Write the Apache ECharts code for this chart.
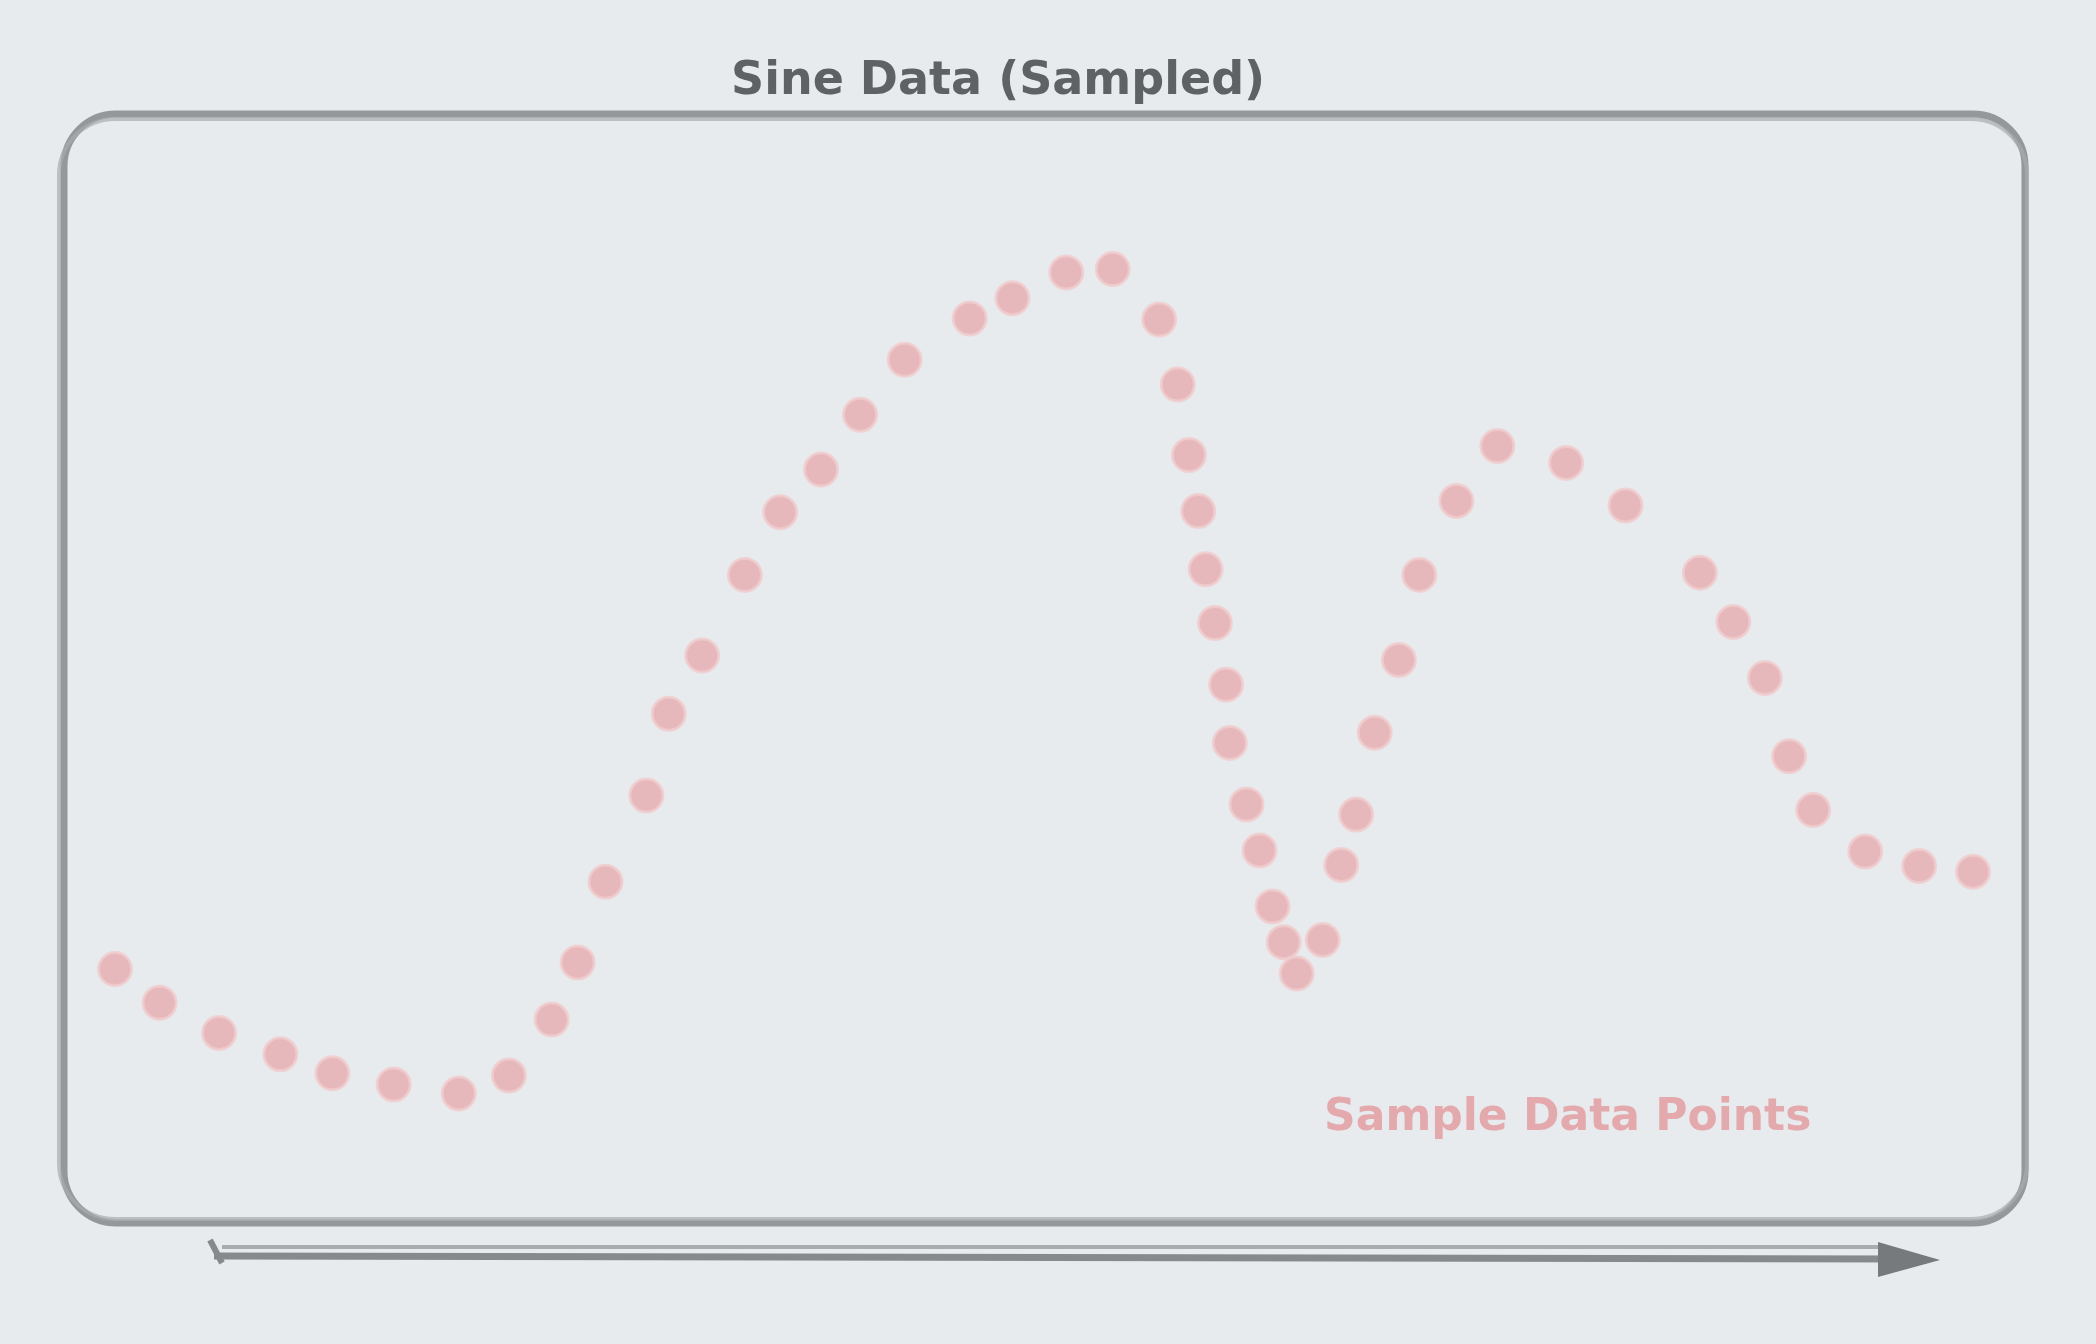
<!DOCTYPE html>
<html><head><meta charset="utf-8">
<script src="https://cdn.jsdelivr.net/npm/echarts@6/dist/echarts.min.js"></script>
<style>html,body{margin:0;padding:0;background:#e8ebee}#c{width:2096px;height:1344px}</style>
</head><body><div id="c"></div>
<script>
const title = 'Sine Data (Sampled)';
const seriesName = 'Sample Data Points';
const xValues = [0.00,0.24,0.56,0.89,1.17,1.50,1.85,2.12,2.35,2.49,2.64,2.86,2.98,3.16,3.39,3.58,3.80,4.01,4.25,4.60,4.83,5.12,5.37,5.62,5.72,5.78,5.83,5.87,5.92,5.98,6.00,6.09,6.16,6.23,6.29,6.36,6.50,6.60,6.68,6.78,6.91,7.02,7.22,7.44,7.81,8.13,8.53,8.71,8.88,9.01,9.14,9.42,9.71,10.00];
const yValues = [22.4,19.4,16.7,14.8,13.1,12.1,11.3,12.9,17.9,23.0,30.2,37.9,45.2,50.4,57.6,63.2,67.0,71.9,76.8,80.5,82.3,84.6,84.9,80.4,74.6,68.3,63.3,58.1,53.3,47.8,42.6,37.1,33.0,28.0,24.8,22.0,25.0,31.7,36.2,43.5,50.0,57.6,64.2,69.1,67.6,63.8,57.8,53.4,48.4,41.4,36.6,32.9,31.6,31.1];
const points = xValues.map((x, i) => [x, yValues[i]]);

const chart = echarts.init(document.getElementById('c'), null, {renderer: 'canvas'});
const gray = '#868a8c';
chart.setOption({
  backgroundColor: '#e8ebee',
  animation: false,
  title: {
    text: title, left: 726, top: 54,
    textStyle: {fontFamily: 'DejaVu Sans', fontSize: 46, fontWeight: 'bold', color: '#5f6264'}
  },
  legend: {
    data: [{name: seriesName, icon: 'none'}],
    left: 1314, top: 1092, itemWidth: 0, itemGap: 0,
    textStyle: {fontFamily: 'DejaVu Sans', fontSize: 44, fontWeight: 'bold', color: '#e4a9ad'}
  },
  grid: {left: 115, right: 123, top: 100, bottom: 124},
  xAxis: {type: 'value', min: 0, max: 10, show: false},
  yAxis: {type: 'value', min: 0, max: 100, show: false},
  graphic: [
    {type: 'rect', z: 1, shape: {x: 64, y: 114, width: 1961, height: 1109, r: 52},
     style: {fill: 'none', stroke: gray, lineWidth: 7, opacity: 0.85}},
    {type: 'rect', z: 1, shape: {x: 59, y: 119, width: 1968, height: 1100, r: 56},
     style: {fill: 'none', stroke: '#a9acae', lineWidth: 4, opacity: 0.7}},
    {type: 'line', z: 1, shape: {x1: 214, y1: 1256, x2: 1900, y2: 1259},
     style: {stroke: gray, lineWidth: 7}},
    {type: 'line', z: 1, shape: {x1: 222, y1: 1247, x2: 1880, y2: 1247},
     style: {stroke: '#a9acae', lineWidth: 4}},
    {type: 'polygon', z: 1, shape: {points: [[1878, 1242], [1940, 1260], [1878, 1277]]},
     style: {fill: '#777a7c'}},
    {type: 'line', z: 1, shape: {x1: 210, y1: 1240, x2: 222, y2: 1263},
     style: {stroke: gray, lineWidth: 6}}
  ],
  series: [{
    name: seriesName, type: 'scatter', data: points,
    symbolSize: 33,
    itemStyle: {color: '#e6abae', borderColor: '#f0cccd', borderWidth: 3}
  }]
});
</script></body></html>
